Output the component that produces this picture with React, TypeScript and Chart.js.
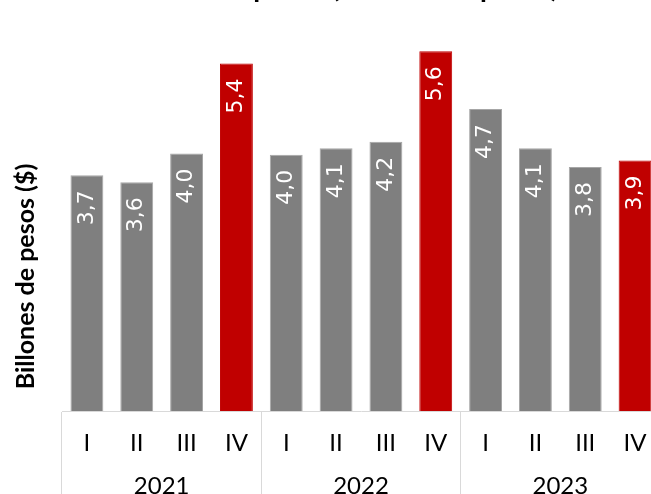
import React, { useEffect, useRef } from 'react';
import { Chart, registerables } from 'chart.js';

Chart.register(...registerables);

// ---- data ----
const quarters = ['I', 'II', 'III', 'IV', 'I', 'II', 'III', 'IV', 'I', 'II', 'III', 'IV'];
const years = ['2021', '2022', '2023'];
const values = [3.67, 3.56, 4.01, 5.41, 3.99, 4.09, 4.19, 5.6, 4.7, 4.09, 3.8, 3.9];
const highlighted = [false, false, false, true, false, false, false, true, false, false, false, true];
const titleText = 'Recaudo en pesos (billones de pesos)';
const yTitle = 'Billones de pesos ($)';
const yMax = 6;

const GRAY = '#7f7f7f';
const GRAY_EDGE = '#a6a6a6';
const RED = '#c00000';
const LINE = '#d9d9d9';

const labelPlugin = {
  id: 'barLabels',
  afterDatasetsDraw(chart: any) {
    const { ctx, chartArea } = chart;
    const meta = chart.getDatasetMeta(0);
    ctx.save();
    ctx.fillStyle = '#ffffff';
    ctx.font = '22px "DejaVu Sans"';
    ctx.textAlign = 'right';
    ctx.textBaseline = 'middle';
    meta.data.forEach((bar: any, i: number) => {
      const txt = values[i].toFixed(1).replace('.', ',');
      ctx.save();
      ctx.translate(bar.x, bar.y + 15);
      ctx.rotate(-Math.PI / 2);
      ctx.fillText(txt, 0, 0);
      ctx.restore();
    });
    ctx.fillStyle = '#000000';
    ctx.font = 'bold 25px Lato';
    ctx.textAlign = 'center';
    ctx.textBaseline = 'middle';
    ctx.translate(chartArea.left - 36, chartArea.bottom - 134.5);
    ctx.rotate(-Math.PI / 2);
    ctx.fillText(yTitle, 0, 0);
    ctx.restore();
  },
};

export default function App() {
  const ref = useRef<HTMLCanvasElement>(null);
  useEffect(() => {
    const chart = new Chart(ref.current as HTMLCanvasElement, {
      type: 'bar',
      data: {
        labels: quarters,
        datasets: [
          {
            data: values,
            backgroundColor: highlighted.map((h) => (h ? RED : GRAY)),
            borderColor: highlighted.map((h) => (h ? RED : GRAY_EDGE)),
            borderWidth: 1,
            categoryPercentage: 1,
            barPercentage: 0.66,
          },
        ],
      },
      options: {
        responsive: false,
        animation: false,
        devicePixelRatio: 1,
        layout: { padding: 0 },
        plugins: {
          legend: { display: false },
          tooltip: { enabled: false },
          title: {
            display: true,
            text: titleText,
            color: '#000000',
            font: { family: 'Lato', size: 28, weight: 'bold' },
            padding: { top: 11, bottom: 21 },
          },
        },
        scales: {
          x: {
            type: 'category',
            position: 'bottom',
            weight: 0,
            offset: true,
            grid: {
              display: true,
              drawOnChartArea: false,
              drawTicks: true,
              tickLength: 85,
              offset: true,
              lineWidth: 1,
              color: (c: any) => (c.index % 4 === 0 ? LINE : 'rgba(0,0,0,0)'),
            },
            border: { display: true, color: LINE, width: 1 },
            ticks: {
              padding: -67,
              color: '#000000',
              font: { family: 'Lato', size: 24 },
              maxRotation: 0,
              autoSkip: false,
            },
            afterFit: (s: any) => {
              s.height = 44;
            },
          },
          x2: {
            type: 'category',
            labels: years,
            position: 'bottom',
            weight: 1,
            offset: true,
            grid: { display: false, drawTicks: false },
            border: { display: false },
            ticks: {
              padding: 17,
              color: '#000000',
              font: { family: 'Lato', size: 24 },
              maxRotation: 0,
              autoSkip: false,
            },
            afterFit: (s: any) => {
              s.height = 41;
            },
          },
          y: {
            min: 0,
            max: yMax,
            display: true,
            grid: { display: false, drawTicks: false },
            border: { display: false },
            ticks: { display: false },
            afterFit: (s: any) => {
              s.width = 62;
            },
          },
        },
      } as any,
      plugins: [labelPlugin],
    });
    return () => chart.destroy();
  }, []);

  return (
    <div
      style={{
        position: 'fixed',
        left: 0,
        top: 0,
        width: 651,
        height: 494,
        overflow: 'hidden',
        background: '#ffffff',
      }}
    >
      <div style={{ position: 'absolute', left: 0, top: -40, width: 660, height: 536 }}>
        <canvas ref={ref} width={660} height={536} style={{ display: 'block', width: 660, height: 536 }} />
      </div>
    </div>
  );
}
